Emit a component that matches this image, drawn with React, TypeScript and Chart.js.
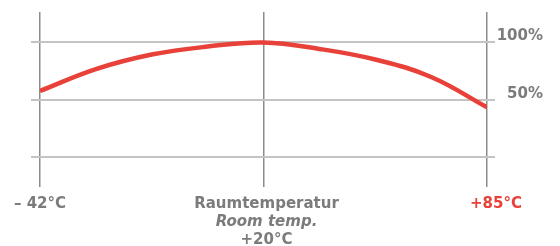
import React, { useEffect, useRef } from "react";
import { Chart, registerables, LinearScale } from "chart.js";

Chart.register(...registerables);

// ---- data ----
const temps = [-42, -26.5, -11, 4.5, 20, 36.25, 52.5, 68.75, 85];
const capacity = [57.8, 76.8, 89.5, 96.4, 100, 94.4, 85.2, 70.0, 43.7];
const xTickTemps = [-42, 20, 85];
const xTickLabels = [["– 42°C"], ["Raumtemperatur", "Room temp.", "+20°C"], ["+85°C"]];
const yGridValues = [0, 50, 100];
const yTickLabels = ["", "50%", "100%"];

// ---- styles ----
const RED = "#e8413a";
const GRAY_TEXT = "#7b7b7b";
const FONT_FAMILY = "'DejaVu Sans', sans-serif";
const labelDx = [0, 3, 9];
const labelColors = [GRAY_TEXT, GRAY_TEXT, RED];
const labelStyles = [["normal"], ["normal", "italic", "normal"], ["normal"]];

// Piecewise linear scale: each interval between break temperatures gets equal width
class PiecewiseScale extends LinearScale {
  static id = "piecewise";
  static defaults = { ...(LinearScale as any).defaults };
  getPixelForValue(value: number) {
    if (value === null || value === undefined || isNaN(value)) return NaN;
    const bp = xTickTemps;
    const n = bp.length - 1;
    let i = 0;
    while (i < n - 1 && value > bp[i + 1]) i++;
    const frac = (i + (value - bp[i]) / (bp[i + 1] - bp[i])) / n;
    return (this as any).getPixelForDecimal(frac);
  }
  getValueForPixel(pixel: number) {
    const dec = (this as any).getDecimalForPixel(pixel);
    const bp = xTickTemps;
    const n = bp.length - 1;
    const pos = dec * n;
    const i = Math.min(n - 1, Math.max(0, Math.floor(pos)));
    return bp[i] + (pos - i) * (bp[i + 1] - bp[i]);
  }
}
Chart.register(PiecewiseScale as any);

const xLabelPlugin = {
  id: "xLabels",
  afterDraw(chart: any) {
    const ctx = chart.ctx;
    const xs = chart.scales.x;
    const bottom = chart.chartArea.bottom;
    ctx.save();
    xTickTemps.forEach((t, i) => {
      const x = xs.getPixelForValue(t) + labelDx[i];
      xTickLabels[i].forEach((line, j) => {
        ctx.font = `${labelStyles[i][j]} bold 15px ${FONT_FAMILY}`;
        ctx.fillStyle = labelColors[i];
        ctx.textAlign = "center";
        ctx.textBaseline = "alphabetic";
        ctx.fillText(line, x, bottom + 21 + j * 18);
      });
    });
    ctx.restore();
  },
};

const yTicksFromValues = (scale: any) => {
  scale.ticks = yGridValues.map((v) => ({ value: v }));
};

export default function App() {
  const ref = useRef<HTMLCanvasElement | null>(null);
  useEffect(() => {
    if (!ref.current) return;
    const chart = new Chart(ref.current, {
      type: "line",
      data: {
        datasets: [
          {
            data: temps.map((t, i) => ({ x: t, y: capacity[i] })),
            borderColor: RED,
            borderWidth: 4.5,
            pointRadius: 0,
            tension: 0.4,
            fill: false,
          },
        ],
      },
      options: {
        responsive: false,
        animation: false,
        events: [],
        layout: { padding: { left: 31, top: 12, right: 17, bottom: 59 } },
        plugins: { legend: { display: false }, tooltip: { enabled: false } },
        scales: {
          x: {
            type: "piecewise" as any,
            min: -42,
            max: 85,
            afterBuildTicks: (scale: any) => {
              scale.ticks = xTickTemps.map((v) => ({ value: v }));
            },
            afterFit: (scale: any) => {
              scale.height = 0;
            },
            ticks: { display: false },
            border: { display: false },
            grid: { color: "#8c8c8c", lineWidth: 1.5, drawTicks: false },
          },
          y: {
            type: "linear",
            position: "left",
            min: -25.7,
            max: 126.5,
            afterBuildTicks: yTicksFromValues,
            afterFit: (scale: any) => {
              scale.width = 9;
            },
            ticks: { display: false },
            border: { display: false },
            grid: { color: "#c4c4c4", lineWidth: 2, drawTicks: true, tickLength: 9 },
          },
          y2: {
            type: "linear",
            position: "right",
            min: -25.7,
            max: 126.5,
            afterBuildTicks: yTicksFromValues,
            afterFit: (scale: any) => {
              scale.width = 56;
            },
            ticks: {
              display: true,
              crossAlign: "far",
              labelOffset: -6,
              color: GRAY_TEXT,
              font: { family: FONT_FAMILY, size: 15, weight: "bold" },
              callback: (value: any) => {
                const idx = yGridValues.indexOf(Number(value));
                return idx >= 0 ? yTickLabels[idx] : "";
              },
            },
            border: { display: false },
            grid: { color: "#c4c4c4", lineWidth: 2, drawOnChartArea: false, drawTicks: true, tickLength: 8 },
          },
        },
      } as any,
      plugins: [xLabelPlugin],
    });
    return () => chart.destroy();
  }, []);
  return (
    <div style={{ position: "fixed", left: 0, top: 0, width: 560, height: 246, background: "#fff" }}>
      <canvas ref={ref} width={560} height={246} style={{ display: "block" }} />
    </div>
  );
}
